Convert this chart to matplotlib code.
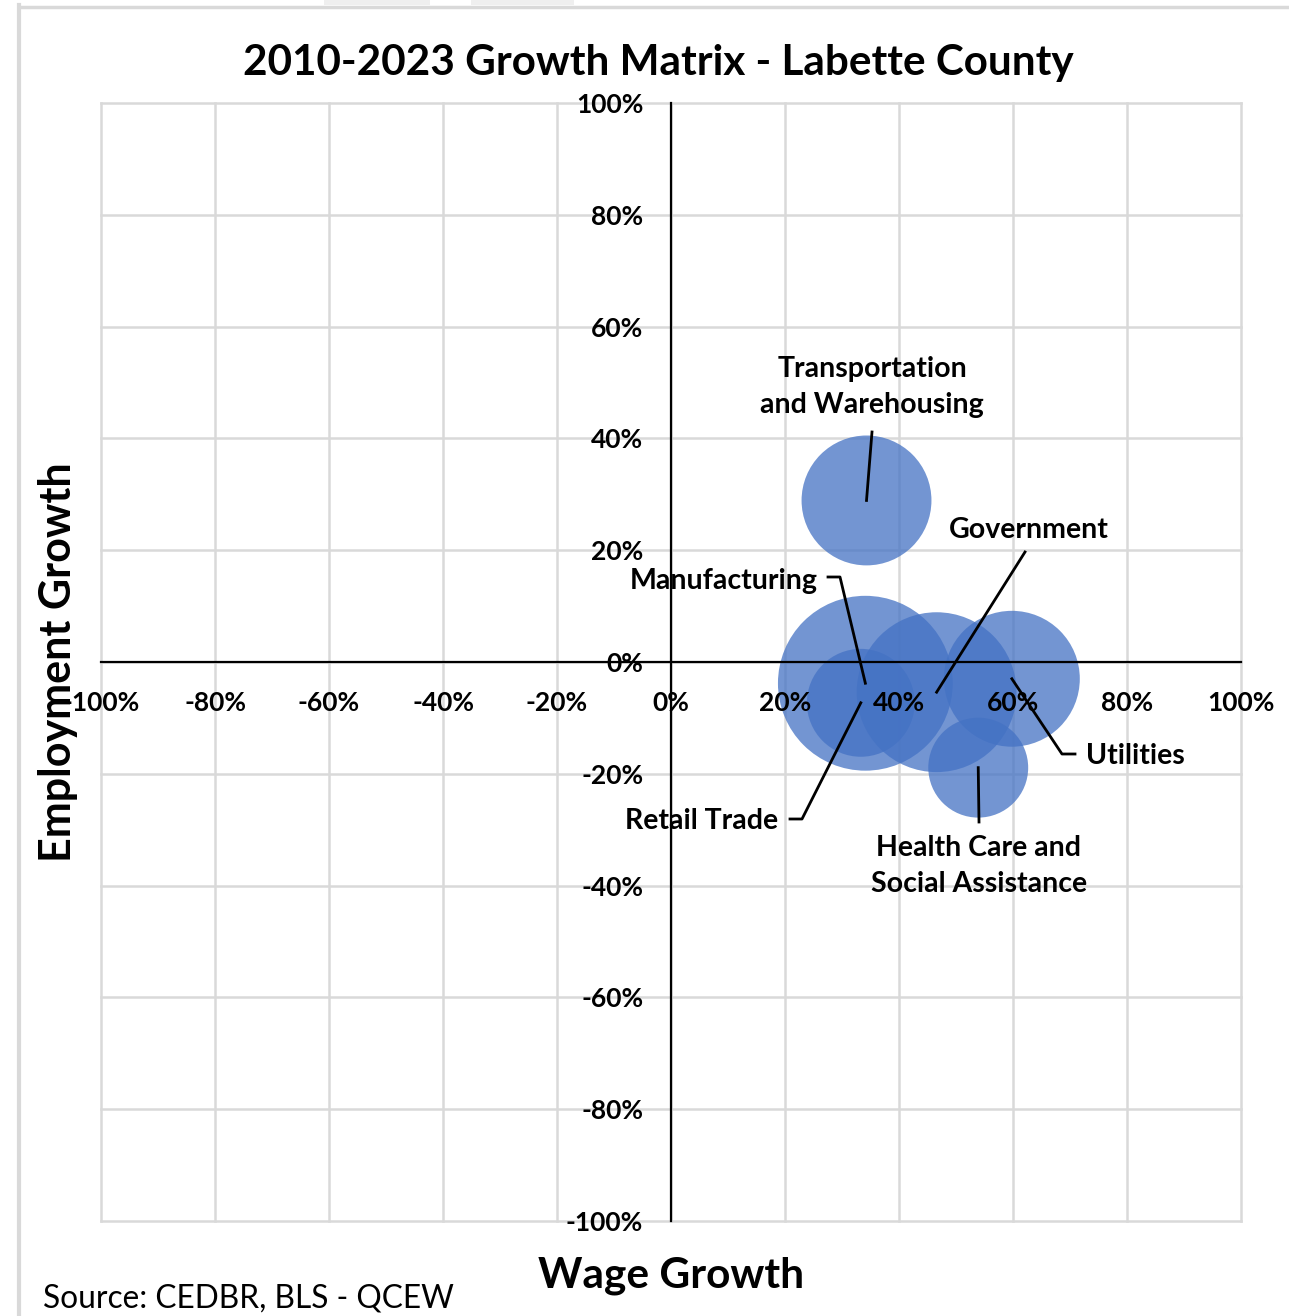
import numpy as np
import matplotlib
matplotlib.use("Agg")
import matplotlib.pyplot as plt
from matplotlib.lines import Line2D
from matplotlib.patches import Rectangle

plt.rcParams['font.family'] = ['Lato', 'DejaVu Sans']

# Industry growth, 2010-2023 (fractions)
industries = ['Transportation\nand Warehousing', 'Manufacturing', 'Retail Trade',
              'Government', 'Utilities', 'Health Care and\nSocial Assistance']
wage_growth = [0.343, 0.341, 0.333, 0.466, 0.598, 0.539]
employment_growth = [0.289, -0.038, -0.073, -0.054, -0.030, -0.189]
# relative bubble size (area)
bubble_size = [4225, 7656, 2916, 6400, 4624, 2500]

W, H = 1289, 1316
fig = plt.figure(figsize=(W / 100, H / 100), dpi=100)

# axes placed to the pixel box of the plot area
left, right, top, bottom = 101, 1241, 103, 1221
ax = fig.add_axes([left / W, 1 - bottom / H, (right - left) / W, (bottom - top) / H])

ax.set_xlim(-1, 1)
ax.set_ylim(-1, 1)

ticks = np.arange(-100, 101, 20) / 100

# gridlines drawn by hand so they stay under the bubbles while tick labels sit on top
grid_color = '#D9D9D9'
for t in ticks:
    ax.axvline(t, color=grid_color, lw=1.8, zorder=0.2, clip_on=False)
    ax.axhline(t, color=grid_color, lw=1.8, zorder=0.2, clip_on=False)

ax.scatter(wage_growth, employment_growth, s=np.array(bubble_size) * 2.07,
           color='#4472C4', alpha=0.75, linewidths=0, zorder=1)

for side in ['top', 'right']:
    ax.spines[side].set_visible(False)
for side in ['left', 'bottom']:
    ax.spines[side].set_position('zero')
    ax.spines[side].set_color('black')
    ax.spines[side].set_linewidth(1.6)
    ax.spines[side].set_zorder(2.5)

ax.set_xticks(ticks)
ax.set_yticks(ticks)
ax.set_xticklabels([f"{t:.0%}" for t in ticks], fontsize=19, fontweight='bold')
ax.set_yticklabels([f"{t:.0%}" for t in ticks], fontsize=19, fontweight='bold')
ax.tick_params(axis='x', length=0, pad=21)
ax.tick_params(axis='y', length=0, pad=20)


def px(x, y):
    # pixel position -> data coords
    return (x - 671) / 570, (662 - y) / 559


label_font = dict(fontsize=20.5, fontweight='bold', color='black')
lead = dict(color='black', lw=2, zorder=3)

# Transportation and Warehousing
tx, ty = px(872, 387)
ax.text(tx, ty, industries[0], ha='center', va='center', linespacing=1.45, **label_font)
sx, sy = px(872, 432)
ax.plot([sx, wage_growth[0]], [sy, employment_growth[0]], **lead)

# Manufacturing
tx, ty = px(818, 581)
ax.text(tx, ty, industries[1], ha='right', va='center', **label_font)
a = px(828, 577)
b = px(840, 577)
ax.plot([a[0], b[0], wage_growth[1]], [a[1], b[1], employment_growth[1]], **lead)

# Retail Trade
tx, ty = px(778, 821)
ax.text(tx, ty, industries[2], ha='right', va='center', **label_font)
a = px(790, 819)
b = px(802, 819)
ax.plot([a[0], b[0], wage_growth[2]], [a[1], b[1], employment_growth[2]], **lead)

# Government
tx, ty = px(1029, 530)
ax.text(tx, ty, industries[3], ha='center', va='center', **label_font)
sx, sy = px(1025, 552)
ax.plot([sx, wage_growth[3]], [sy, employment_growth[3]], **lead)

# Utilities
tx, ty = px(1086, 756)
ax.text(tx, ty, industries[4], ha='left', va='center', **label_font)
a = px(1075, 754)
b = px(1062, 754)
ax.plot([a[0], b[0], wage_growth[4]], [a[1], b[1], employment_growth[4]], **lead)

# Health Care and Social Assistance
tx, ty = px(979, 866)
ax.text(tx, ty, industries[5], ha='center', va='center', linespacing=1.45, **label_font)
sx, sy = px(979, 822)
ax.plot([sx, wage_growth[5]], [sy, employment_growth[5]], **lead)

# titles
fig.text(658 / W, 1 - 63 / H, '2010-2023 Growth Matrix - Labette County',
         ha='center', va='center', fontsize=30.4, fontweight='bold')
fig.text(58 / W, 1 - 662 / H, 'Employment Growth', rotation=90,
         ha='center', va='center', fontsize=31, fontweight='bold')
fig.text(671 / W, 1 - 1276 / H, 'Wage Growth',
         ha='center', va='center', fontsize=30.5, fontweight='bold')
fig.text(43 / W, 1 - 1298 / H, 'Source: CEDBR, BLS - QCEW',
         ha='left', va='center', fontsize=22.8)

# window frame around the chart
fig.add_artist(Line2D([19 / W, 19 / W], [0, 1 - 5 / H], color=grid_color, lw=3))
fig.add_artist(Line2D([19 / W, 1], [1 - 6.5 / H, 1 - 6.5 / H], color=grid_color, lw=2.5))
fig.add_artist(Rectangle((324 / W, 1 - 5 / H), 106 / W, 5 / H, color='#EFEFEF', lw=0))
fig.add_artist(Rectangle((471 / W, 1 - 5 / H), 103 / W, 5 / H, color='#EFEFEF', lw=0))

fig.savefig('out.png', dpi=100)
